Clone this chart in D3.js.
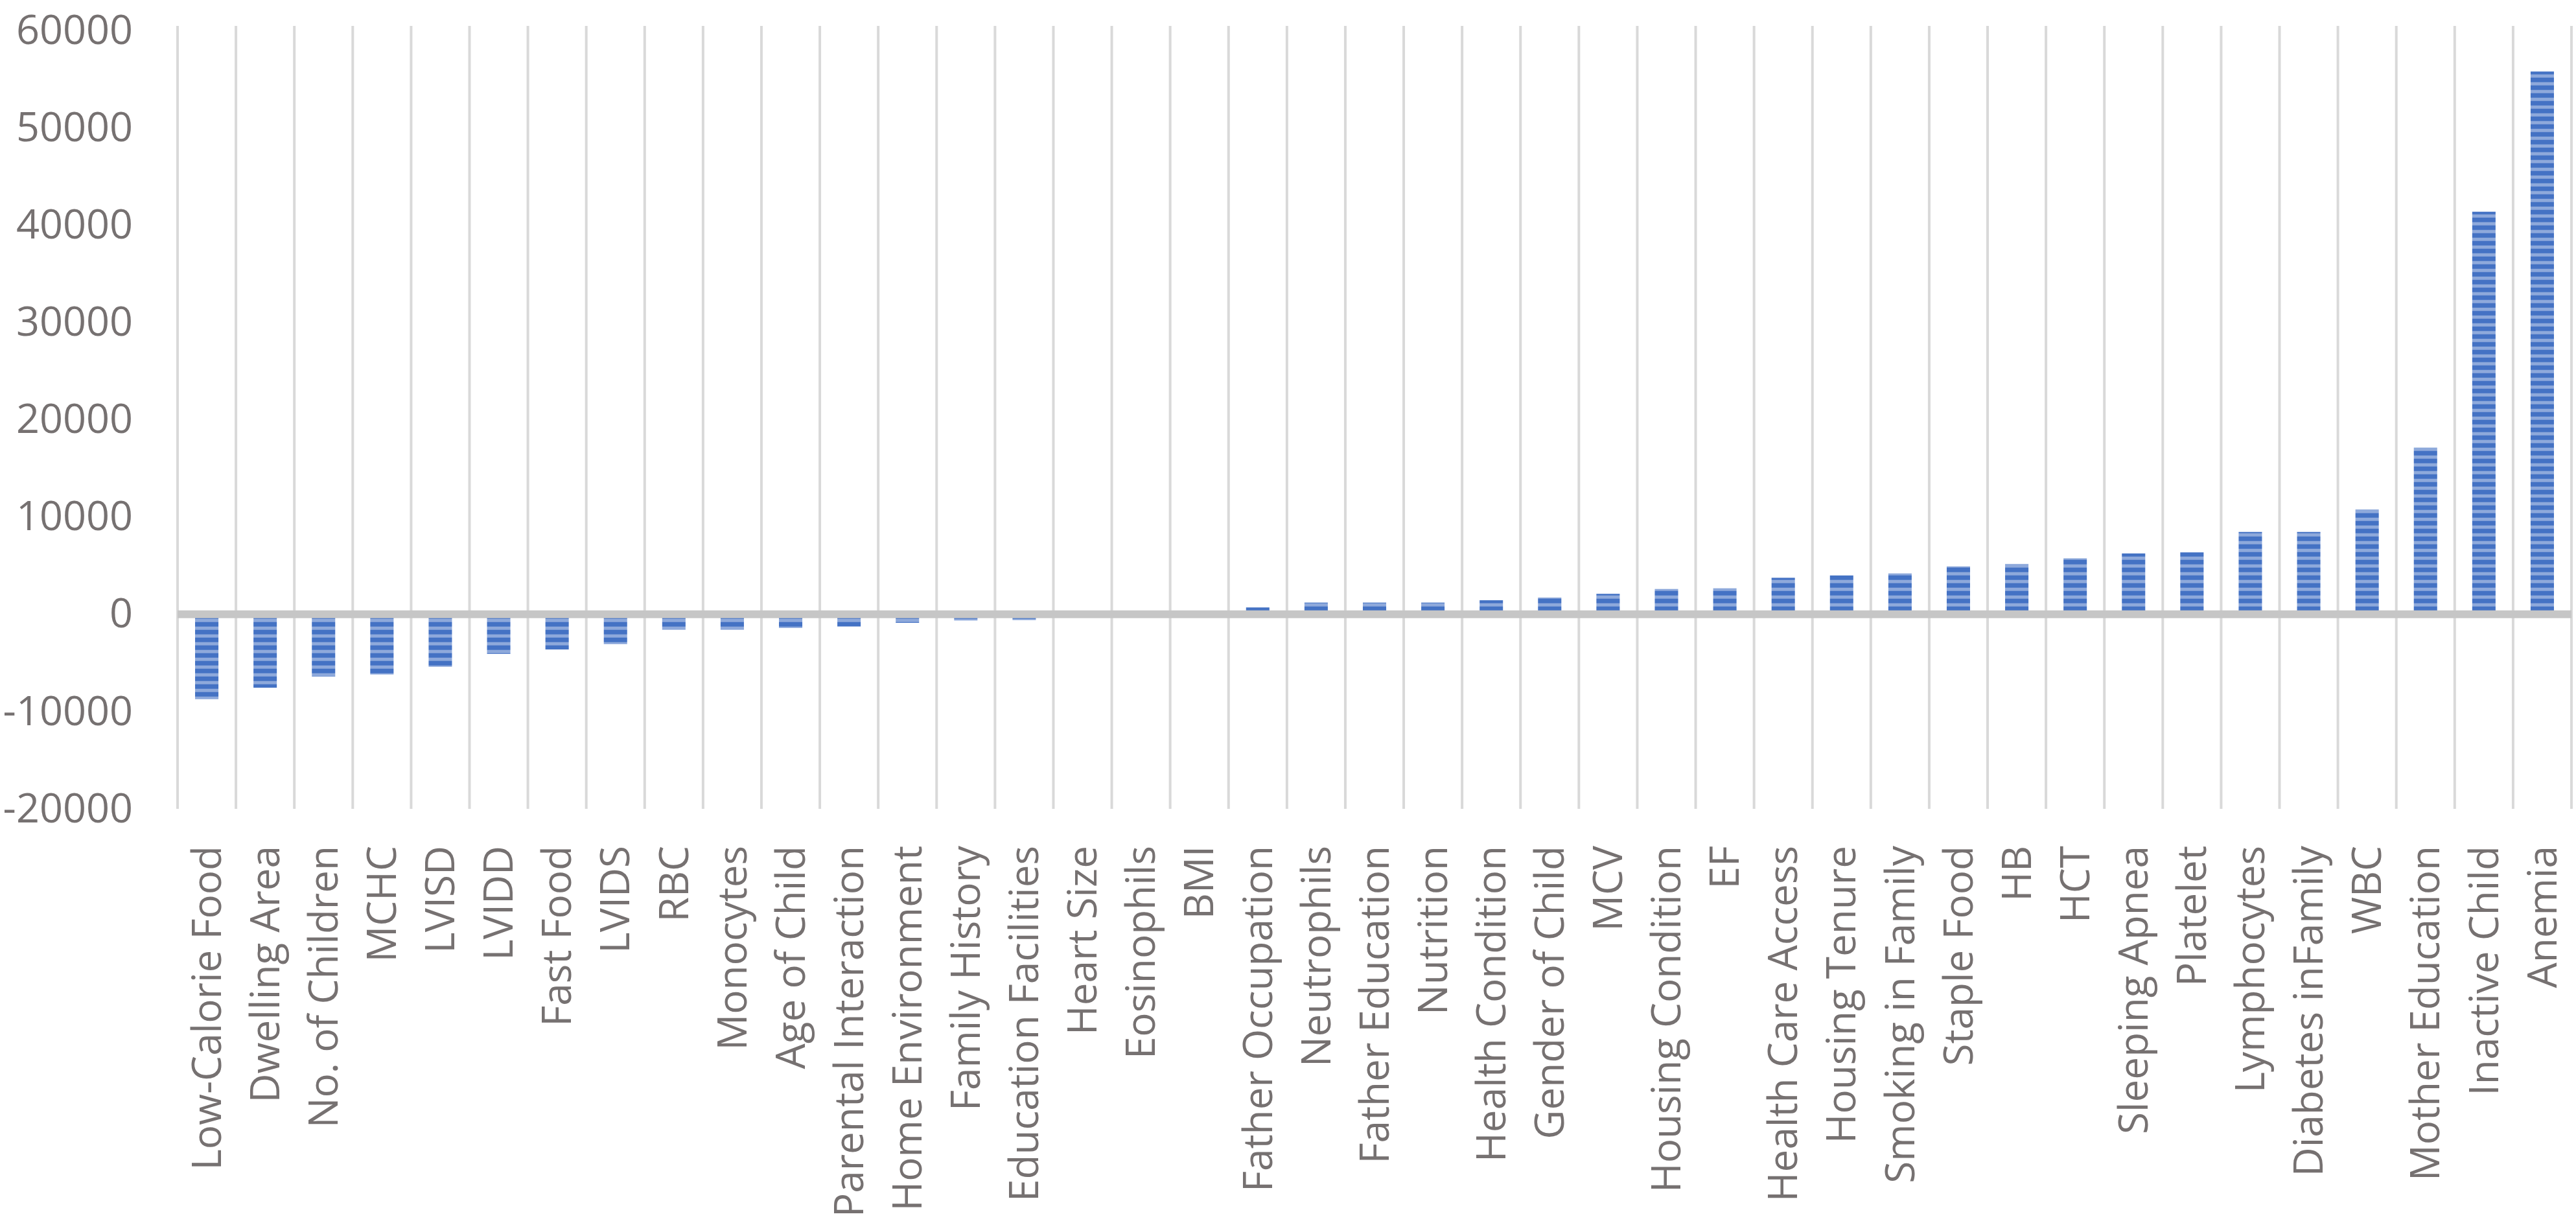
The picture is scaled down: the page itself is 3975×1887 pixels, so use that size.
<!DOCTYPE html>
<html>
<head>
<meta charset="utf-8">
<script src="https://cdn.jsdelivr.net/npm/d3@7"></script>
<style>
  html, body { margin: 0; padding: 0; background: #ffffff; }
  svg { display: block; }
</style>
</head>
<body>
<svg id="chart" width="3975" height="1887"></svg>
<script>
const categories = [
  "Low-Calorie Food", "Dwelling Area", "No. of Children", "MCHC", "LVISD", "LVIDD",
  "Fast Food", "LVIDS", "RBC", "Monocytes", "Age of Child", "Parental Interaction",
  "Home Environment", "Family History", "Education Facilities", "Heart Size",
  "Eosinophils", "BMI", "Father Occupation", "Neutrophils", "Father Education",
  "Nutrition", "Health Condition", "Gender of Child", "MCV", "Housing Condition",
  "EF", "Health Care Access", "Housing Tenure", "Smoking in Family", "Staple Food",
  "HB", "HCT", "Sleeping Apnea", "Platelet", "Lymphocytes", "Diabetes inFamily",
  "WBC", "Mother Education", "Inactive Child", "Anemia"
];
const values = [
  -8730, -7550, -6410, -6190, -5400, -4070,
  -3620, -3070, -1590, -1590, -1410, -1260,
  -880, -640, -600, 0,
  0, 0, 700, 1200, 1200,
  1200, 1440, 1720, 2100, 2600,
  2670, 3750, 3990, 4200, 4920,
  5150, 5750, 6250, 6360, 8460, 8460,
  10750, 17120, 41370, 55780
];
const yTicks = [-20000, -10000, 0, 10000, 20000, 30000, 40000, 50000, 60000];
const yTickLabels = ["-20000", "-10000", "0", "10000", "20000", "30000", "40000", "50000", "60000"];

const svg = d3.select("#chart");
const plot = { left: 274, right: 3968, top: 47, bottom: 1248 };

const x = d3.scaleBand()
  .domain(categories)
  .range([plot.left, plot.right])
  .paddingInner(0.6)
  .paddingOuter(0.3);

const y = d3.scaleLinear()
  .domain([-20000, 60000])
  .range([plot.bottom, plot.top]);

// pattern: narrow horizontal stripes
const defs = svg.append("defs");
const pat = defs.append("pattern")
  .attr("id", "stripes")
  .attr("patternUnits", "userSpaceOnUse")
  .attr("x", 0).attr("y", y(0))
  .attr("width", 12).attr("height", 12);
pat.append("rect").attr("x", 0).attr("y", 0).attr("width", 12).attr("height", 12).attr("fill", "#8EA9DB");
pat.append("rect").attr("x", 0).attr("y", 0).attr("width", 12).attr("height", 7).attr("fill", "#4472C4");

// vertical category gridlines
const step = x.step();
const bounds = d3.range(categories.length + 1).map(i => x.range()[0] + i * step);
svg.append("g")
  .selectAll("line")
  .data(bounds)
  .join("line")
  .attr("x1", d => d).attr("x2", d => d)
  .attr("y1", 40).attr("y2", y(-20000))
  .attr("stroke", "#d9d9d9")
  .attr("stroke-width", 4);

// bars
svg.append("g")
  .selectAll("rect")
  .data(categories.map((c, i) => ({ c, v: values[i] })))
  .join("rect")
  .attr("x", d => x(d.c))
  .attr("width", x.bandwidth())
  .attr("y", d => y(Math.max(0, d.v)))
  .attr("height", d => Math.abs(y(d.v) - y(0)))
  .attr("fill", "url(#stripes)");

// zero line
svg.append("line")
  .attr("x1", plot.left).attr("x2", plot.right)
  .attr("y1", y(0)).attr("y2", y(0))
  .attr("stroke", "#c6c6c6")
  .attr("stroke-width", 12);

// y axis labels
const yAxis = d3.axisLeft(y)
  .tickValues(yTicks)
  .tickFormat((d, i) => yTickLabels[i])
  .tickSize(0).tickPadding(0);
const gy = svg.append("g")
  .attr("transform", "translate(205,0)")
  .call(yAxis);
gy.select(".domain").remove();
gy.selectAll("text")
  .attr("font-family", "'Open Sans', sans-serif")
  .attr("font-size", 63)
  .attr("fill", "#767171");

// x category labels
const xAxis = d3.axisBottom(x).tickSize(0).tickPadding(0);
const gx = svg.append("g")
  .attr("transform", "translate(0,1305)")
  .call(xAxis);
gx.select(".domain").remove();
gx.selectAll("text")
  .attr("font-family", "'Open Sans', sans-serif")
  .attr("font-size", 62)
  .attr("fill", "#767171")
  .attr("text-anchor", "end")
  .attr("transform", "rotate(-90)")
  .attr("x", 0)
  .attr("y", 0)
  .attr("dy", "0.35em");
</script>
</body>
</html>
